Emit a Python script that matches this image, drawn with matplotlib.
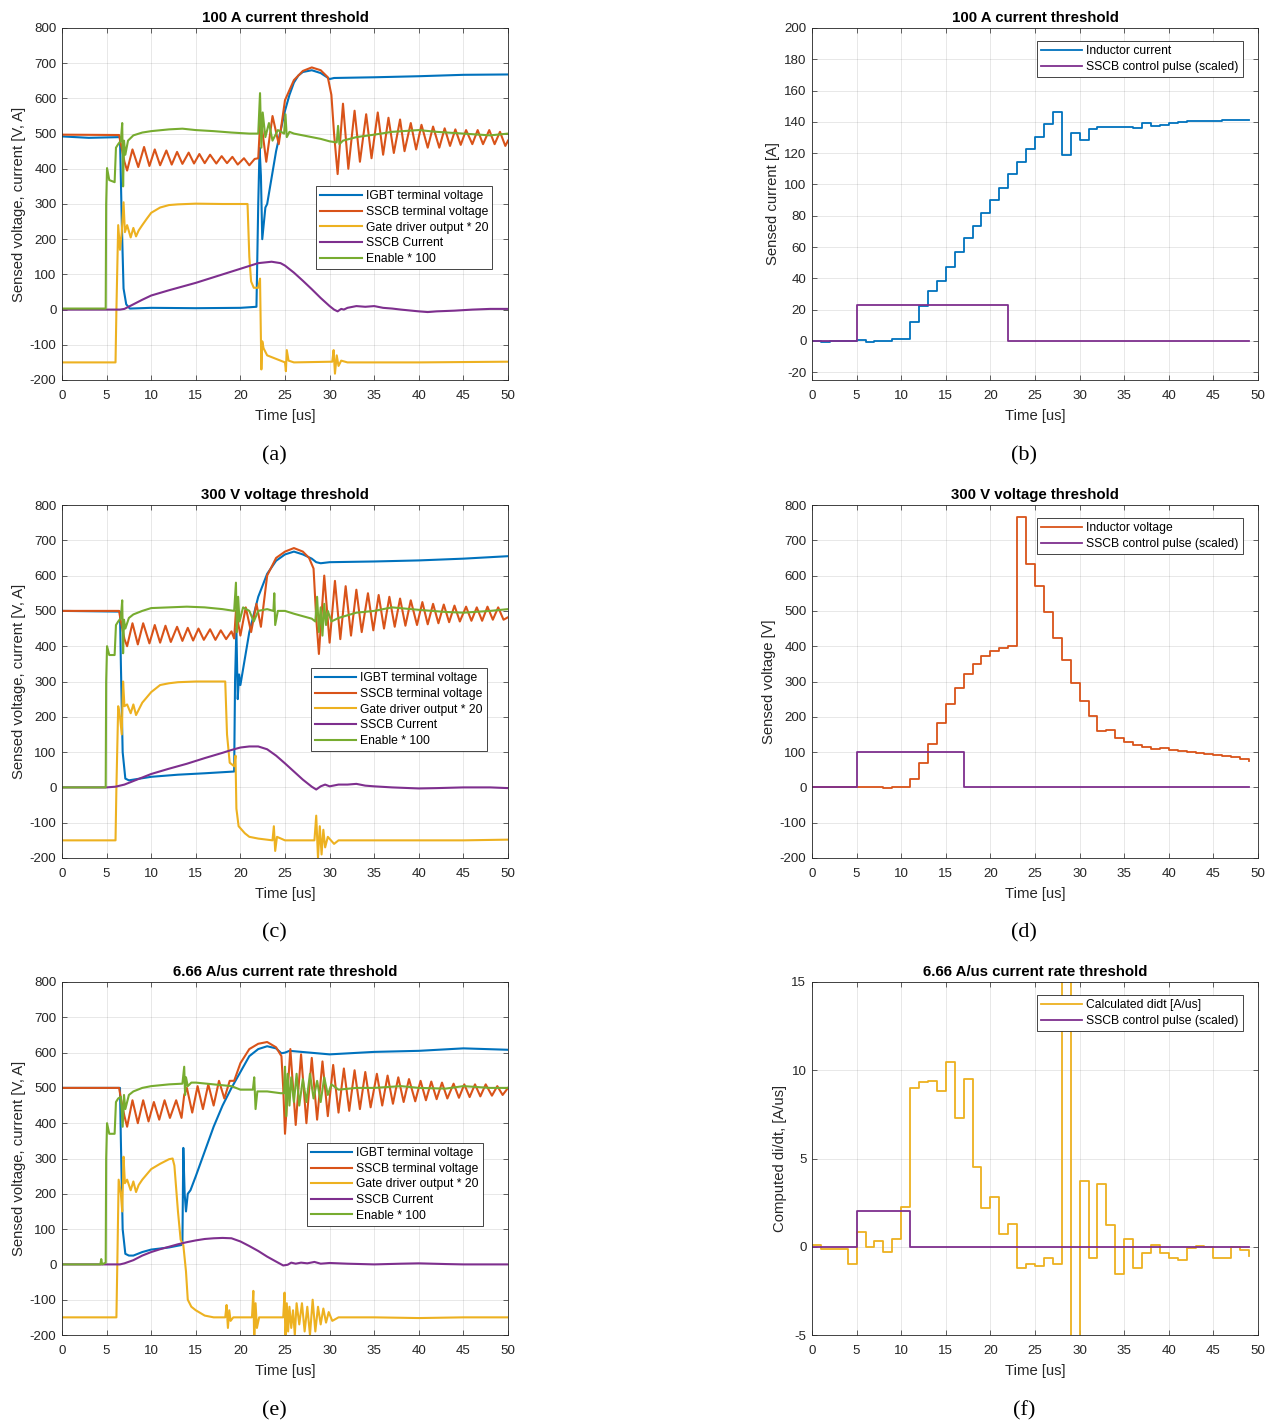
import matplotlib
matplotlib.use("Agg")
import matplotlib.pyplot as plt
import numpy as np

plt.rcParams['font.family'] = ['Liberation Sans', 'DejaVu Sans']
plt.rcParams['axes.unicode_minus'] = False

# MATLAB default line colours
BLUE = '#0072BD'
ORANGE = '#D95319'
YELLOW = '#EDB120'
PURPLE = '#7E2F8E'
GREEN = '#77AC30'
INK = '#262626'

left_labels = ['IGBT terminal voltage', 'SSCB terminal voltage',
               'Gate driver output * 20', 'SSCB Current', 'Enable * 100']

# ---- (a) 100 A current threshold, scope traces (time [us], value)
a_igbt = [(0, 492), (3, 488), (6.5, 490), (6.7, 250), (6.9, 60), (7.2, 15), (7.6, 3), (10, 5), (15, 4),
          (20, 5), (21.8, 8), (22.0, 300), (22.15, 460), (22.3, 380), (22.45, 200), (22.8, 290), (23.0, 300),
          (24.0, 450), (25.0, 565), (25.5, 610), (26.0, 645), (26.5, 665), (27.0, 675), (28.0, 680),
          (29.0, 672), (29.6, 662), (30.0, 655), (30.5, 658), (35, 660), (40, 663), (45, 667), (50, 668)]
a_sscb = [(0, 497), (6.4, 496), (6.6, 470), (7.0, 420), (7.3, 395), (7.9, 455), (8.55, 405), (9.2, 462),
          (9.8, 408), (10.4, 455), (11.0, 410), (11.7, 452), (12.3, 412), (12.9, 448), (13.5, 414),
          (14.2, 446), (14.8, 415), (15.4, 442), (16.0, 416), (16.6, 440), (17.3, 415), (17.9, 436),
          (18.5, 416), (19.1, 434), (19.7, 412), (20.4, 430), (21.0, 410), (21.6, 428), (22.0, 430),
          (22.25, 550), (22.9, 420), (23.6, 550), (24.3, 470), (25.0, 595), (26.0, 652), (27.0, 678),
          (28.0, 688), (29.0, 680), (29.8, 660), (30.2, 610), (30.5, 500), (30.9, 385), (31.5, 585),
          (32.1, 400), (32.8, 565), (33.4, 420), (34.1, 555), (34.7, 430), (35.4, 560), (36.0, 440),
          (36.6, 545), (37.2, 445), (37.9, 540), (38.4, 450), (39.1, 530), (39.7, 455), (40.3, 525),
          (41.0, 460), (41.6, 520), (42.3, 460), (42.9, 515), (43.5, 465), (44.1, 512), (44.7, 468),
          (45.3, 510), (46.0, 470), (46.6, 510), (47.2, 470), (47.9, 510), (48.5, 470), (49.1, 505),
          (49.7, 465), (50, 480)]
a_gate = [(0, -150), (6.0, -150), (6.1, 0), (6.3, 240), (6.5, 170), (6.7, 220), (6.9, 305), (7.05, 220),
          (7.3, 240), (7.7, 205), (8.0, 232), (8.3, 208), (8.6, 225), (9.0, 240), (9.5, 258), (10, 275),
          (11, 290), (12, 297), (13, 299), (15, 301), (18, 300), (20.8, 300), (21.0, 150), (21.2, 80),
          (21.5, 62), (22.0, 62), (22.2, 88), (22.35, -170), (22.45, -90), (22.6, -110), (23.0, -130),
          (23.5, -135), (24.0, -140), (25.0, -150), (25.1, -175), (25.2, -115), (25.4, -145), (26, -150),
          (30.3, -148), (30.45, -115), (30.6, -182), (30.8, -130), (31.0, -160), (31.3, -145), (32, -150),
          (40, -150), (50, -148)]
a_current = [(0, 0), (6.5, 0), (7, 2), (8, 15), (9, 28), (10, 40), (12, 55), (15, 76), (18, 100), (20, 116),
             (22, 132), (23.5, 136), (24.5, 132), (25, 125), (26, 105), (27, 82), (28, 58), (29, 33),
             (30, 10), (30.5, 0), (30.9, -5), (31.3, 2), (31.6, 0), (32, 5), (33, 10), (34, 8), (35, 10),
             (36, 5), (37, 3), (38, 0), (40, -5), (41, -7), (42, -5), (44, -3), (46, 0), (48, 2), (50, 2)]
a_enable = [(0, 3), (4.9, 3), (4.95, 300), (5.05, 402), (5.3, 368), (5.9, 362), (6.05, 460), (6.3, 470),
            (6.6, 480), (6.75, 530), (6.85, 350), (6.95, 480), (7.1, 440), (7.4, 480), (8, 495), (9, 503),
            (10, 507), (12, 512), (13.5, 514), (15, 510), (17, 507), (19, 503), (21, 500), (22.0, 500),
            (22.2, 615), (22.35, 460), (22.5, 560), (22.8, 490), (23.2, 530), (23.6, 480), (24.2, 510),
            (24.9, 500), (25.05, 555), (25.2, 490), (25.5, 505), (26, 500), (27, 495), (28, 490), (29, 485),
            (30, 478), (30.8, 475), (30.95, 522), (31.1, 470), (31.5, 480), (33, 490), (35, 497), (37, 505),
            (40, 510), (42, 505), (45, 500), (48, 495), (50, 500)]

# ---- (c) 300 V voltage threshold
c_igbt = [(0, 500), (6.5, 498), (6.6, 350), (6.8, 100), (7.1, 25), (7.5, 20), (8, 22), (10, 30), (13, 36),
          (16, 40), (19.3, 45), (19.4, 300), (19.55, 450), (19.7, 250), (19.85, 320), (20.0, 290),
          (21.0, 440), (22.0, 540), (23.0, 605), (24.0, 642), (25.0, 660), (26.0, 668), (27.0, 660),
          (28.0, 648), (28.5, 638), (29.0, 635), (30, 638), (35, 640), (40, 643), (45, 648), (50, 655)]
c_sscb = [(0, 500), (6.4, 500), (6.6, 470), (7.0, 420), (7.3, 400), (7.9, 465), (8.5, 405), (9.1, 465),
          (9.8, 408), (10.4, 460), (11.0, 410), (11.6, 458), (12.2, 412), (12.9, 455), (13.5, 415),
          (14.1, 452), (14.7, 416), (15.3, 450), (15.9, 418), (16.6, 448), (17.2, 418), (17.8, 445),
          (18.4, 420), (19.0, 442), (19.3, 422), (19.5, 500), (20.0, 430), (20.6, 510), (21.2, 440),
          (21.8, 520), (22.3, 455), (23.0, 600), (24.0, 650), (25.0, 668), (26.0, 678), (27.0, 668),
          (27.7, 650), (28.2, 620), (28.5, 480), (28.8, 378), (29.4, 600), (30.0, 410), (30.6, 585),
          (31.2, 420), (31.8, 570), (32.4, 430), (33.0, 560), (33.6, 440), (34.3, 550), (34.9, 445),
          (35.5, 545), (36.1, 450), (36.7, 540), (37.3, 455), (37.9, 535), (38.5, 458), (39.1, 530),
          (39.8, 460), (40.4, 525), (41.0, 462), (41.6, 520), (42.2, 465), (42.8, 518), (43.4, 468),
          (44.0, 515), (44.6, 470), (45.3, 512), (45.9, 472), (46.5, 510), (47.1, 472), (47.7, 512),
          (48.3, 475), (48.9, 510), (49.5, 475), (50, 482)]
c_gate = [(0, -150), (6.0, -150), (6.1, 0), (6.3, 230), (6.5, 200), (6.7, 150), (6.85, 300), (7.0, 230),
          (7.3, 235), (7.7, 210), (8.0, 235), (8.3, 205), (8.6, 220), (9, 240), (10, 270), (11, 290),
          (12, 295), (13, 298), (15, 300), (18.3, 300), (18.5, 150), (18.8, 70), (19.3, 60), (19.45, 90),
          (19.55, -60), (19.8, -110), (20.5, -130), (21, -140), (22, -145), (23.6, -150), (23.75, -110),
          (23.9, -180), (24.1, -140), (25, -150), (28.3, -150), (28.5, -80), (28.7, -200), (28.9, -110),
          (29.1, -190), (29.3, -120), (29.5, -170), (29.8, -140), (30.5, -160), (31, -150), (35, -150),
          (40, -150), (45, -150), (50, -148)]
c_current = [(0, 0), (5, 0), (6, 2), (7, 8), (8, 18), (9, 28), (10, 38), (12, 53), (14, 67), (16, 83),
             (18, 98), (19, 106), (20, 113), (21, 116), (22, 116), (23, 108), (24, 90), (25, 68), (26, 45),
             (27, 22), (28, 2), (28.5, -6), (29, 3), (29.5, 8), (30, 3), (31, 8), (32, 8), (33, 10),
             (34, 5), (35, 3), (37, 0), (40, -3), (42, -2), (45, 0), (48, 0), (50, -2)]
c_enable = [(0, 0), (4.9, 0), (4.95, 300), (5.05, 400), (5.3, 375), (5.9, 375), (6.05, 460), (6.3, 470),
            (6.6, 480), (6.75, 530), (6.85, 380), (6.95, 475), (7.1, 450), (7.5, 480), (8, 490), (9, 500),
            (10, 508), (12, 510), (14, 512), (16, 510), (18, 505), (19.3, 500), (19.5, 580), (19.6, 440),
            (19.75, 540), (19.9, 470), (20.3, 510), (21, 500), (21.5, 470), (22, 500), (23, 505),
            (23.7, 500), (23.8, 550), (23.9, 460), (24.2, 500), (25, 500), (26, 492), (27, 485), (28, 478),
            (28.4, 470), (28.6, 540), (28.8, 440), (29.0, 510), (29.2, 430), (29.4, 520), (29.6, 460),
            (29.8, 500), (30.2, 470), (31, 480), (33, 495), (35, 500), (37, 510), (40, 503), (43, 497),
            (45, 495), (48, 500), (50, 505)]

# ---- (e) 6.66 A/us current rate threshold
e_igbt = [(0, 500), (6.5, 500), (6.6, 350), (6.8, 100), (7.1, 30), (7.5, 25), (8, 25), (9, 35), (10, 42),
          (12, 48), (13.4, 55), (13.5, 60), (13.6, 330), (13.75, 200), (13.9, 150), (14.1, 200),
          (14.4, 210), (15, 250), (16, 320), (17, 390), (18, 450), (19, 500), (20, 545), (21, 590),
          (22, 610), (23, 618), (24, 612), (24.6, 598), (25, 600), (25.5, 605), (30, 595), (35, 602),
          (40, 605), (45, 612), (50, 608)]
e_sscb = [(0, 500), (6.4, 500), (6.6, 470), (7.0, 420), (7.3, 390), (7.9, 465), (8.5, 400), (9.1, 465),
          (9.7, 405), (10.3, 460), (10.9, 410), (11.5, 465), (12.1, 415), (12.8, 465), (13.4, 415),
          (13.7, 480), (14.0, 500), (14.6, 430), (15.2, 505), (15.8, 440), (16.4, 510), (17.0, 450),
          (17.6, 520), (18.2, 470), (18.8, 520), (19.3, 520), (20, 570), (21, 610), (22, 625), (23, 630),
          (24, 615), (24.6, 590), (24.8, 500), (25.0, 370), (25.6, 610), (26.2, 395), (26.8, 595),
          (27.4, 400), (28.0, 585), (28.6, 410), (29.2, 575), (29.8, 420), (30.4, 565), (31.0, 430),
          (31.6, 555), (32.2, 435), (32.8, 550), (33.4, 440), (34.0, 545), (34.6, 445), (35.3, 540),
          (35.9, 450), (36.5, 535), (37.1, 455), (37.7, 530), (38.3, 460), (38.9, 525), (39.6, 462),
          (40.2, 520), (40.8, 465), (41.4, 518), (42.0, 468), (42.6, 515), (43.2, 470), (43.9, 512),
          (44.5, 472), (45.1, 510), (45.7, 474), (46.3, 510), (46.9, 476), (47.5, 510), (48.2, 478),
          (48.8, 505), (49.4, 480), (50, 500)]
e_gate = [(0, -150), (6.1, -150), (6.2, 0), (6.35, 240), (6.6, 200), (6.75, 150), (6.9, 305), (7.05, 230),
          (7.3, 240), (7.7, 210), (8.0, 235), (8.3, 205), (8.6, 225), (9, 240), (9.5, 255), (10, 270),
          (11, 285), (12, 298), (12.4, 300), (12.6, 280), (13.0, 150), (13.3, 70), (13.6, 55), (13.9, -20),
          (14.1, -100), (14.5, -120), (15, -130), (16, -145), (17, -150), (18.3, -150), (18.45, -115),
          (18.6, -180), (18.75, -130), (18.9, -160), (19.2, -150), (21.3, -150), (21.45, -75),
          (21.55, -220), (21.7, -110), (21.85, -180), (22.1, -150), (24.8, -150), (24.95, -80),
          (25.05, -220), (25.2, -110), (25.35, -190), (25.5, -120), (25.7, -180), (25.9, -130),
          (26.1, -200), (26.3, -110), (26.6, -170), (26.9, -110), (27.2, -190), (27.5, -120), (27.8, -200),
          (28.1, -100), (28.4, -190), (28.7, -120), (29.0, -170), (29.3, -125), (29.6, -165), (29.9, -135),
          (30.3, -160), (31, -150), (35, -150), (40, -152), (45, -150), (50, -150)]
e_current = [(0, 0), (6.5, 0), (7, 3), (8, 12), (9, 25), (10, 35), (11, 43), (12, 50), (13, 57), (14, 63),
             (15, 68), (16, 72), (17, 74), (18, 75), (19, 74), (20, 65), (21, 52), (22, 38), (23, 22),
             (24, 8), (24.8, -3), (25.3, -1), (25.7, 5), (26.2, 2), (26.8, 5), (27.5, 3), (28.3, 7), (29, 2),
             (30, 4), (32, 2), (35, 0), (38, 2), (40, 3), (43, 1), (45, 0), (48, 0), (50, 0)]
e_enable = [(0, 0), (4.3, 0), (4.4, 15), (4.5, 0), (4.9, 5), (4.95, 300), (5.05, 400), (5.3, 370),
            (5.9, 370), (6.05, 460), (6.3, 470), (6.6, 475), (6.8, 390), (6.95, 480), (7.1, 440), (7.5, 480),
            (8, 490), (9, 500), (10, 505), (12, 510), (13.5, 512), (13.7, 560), (13.8, 480), (13.9, 530),
            (14.1, 505), (14.5, 515), (15, 515), (17, 510), (19, 505), (20, 495), (21.4, 495), (21.55, 530),
            (21.7, 440), (21.9, 490), (23, 490), (24.5, 485), (24.9, 485), (25.0, 560), (25.15, 420),
            (25.3, 540), (25.5, 450), (25.7, 530), (26.0, 460), (26.3, 540), (26.6, 450), (27.0, 525),
            (27.4, 460), (27.8, 540), (28.2, 470), (28.6, 520), (29.0, 460), (29.4, 530), (29.8, 480),
            (30.2, 510), (31, 495), (33, 500), (35, 500), (38, 505), (40, 500), (43, 498), (45, 505),
            (48, 500), (50, 500)]

# ---- right column: controller samples, one per microsecond
sample_t = np.arange(50)
b_current = [0, -1, 0, 0, 0, 0.5, -0.5, 0, 0, 1, 1.5, 12, 22, 32, 38.5, 47, 56.5, 65.5, 73.5, 82,
             90, 98, 106.5, 114.5, 122.5, 130.5, 138.5, 146, 119, 133, 128.5, 135.5, 136.5, 137, 136.5, 137,
             136, 139, 137.5, 138, 139, 140, 140.3, 140.5, 140.5, 140.7, 141, 141.3, 141.2, 141]
b_pulse = [0] * 5 + [23] * 17 + [0] * 28
d_voltage = [0, 0, 0, 0, 0, 0, 0, 0, -2, 0, 2, 25, 68, 122, 182, 237, 281, 320, 350, 372,
             386, 396, 400, 766, 632, 570, 498, 423, 360, 297, 246, 202, 160, 164, 140, 128, 120, 115, 110, 111,
             105, 103, 100, 97, 95, 91, 88, 86, 80, 76]
d_pulse = [0] * 5 + [100] * 12 + [0] * 33
f_didt = [0.1, -0.1, -0.1, -0.1, -1.0, 0.85, 0.0, 0.35, -0.3, 0.45, 2.25, 9.0, 9.35, 9.4, 8.8, 10.45,
          7.3, 9.5, 4.5, 2.2, 2.8, 0.7, 1.3, -1.2, -0.95, -1.1, -0.65, -0.95, 20, -10, 3.7, -0.65, 3.55,
          1.25, -1.55, 0.45, -1.2, -0.35, 0.1, -0.35, -0.65, -0.75, -0.05, 0.05, 0.0, -0.65, -0.65, 0.0,
          -0.2, -0.5]
f_pulse = [0] * 5 + [2] * 6 + [0] * 39


def style_axes(ax, title, ylabel):
    ax.set_title(title, fontsize=10.8, fontweight='bold', pad=4)
    ax.set_xlabel('Time [us]', fontsize=10.7, color=INK, labelpad=5)
    ax.set_ylabel(ylabel, fontsize=10.7, color=INK, labelpad=3)
    ax.set_xlim(0, 50)
    ax.set_xticks(np.arange(0, 51, 5))
    ax.grid(True, color=INK, alpha=0.12, linewidth=0.6)
    ax.set_axisbelow(True)
    ax.tick_params(direction='in', length=3.5, width=0.5, top=True, right=True,
                   labelsize=9.6, colors=INK, pad=4)
    ax.tick_params(axis='x', pad=7)
    for s in ax.spines.values():
        s.set_color(INK)
        s.set_linewidth(0.6)


def legend(ax, x, y):
    leg = ax.legend(loc='upper left', bbox_to_anchor=(x, y), borderaxespad=0, fontsize=8.7,
                    frameon=True, fancybox=False, framealpha=1, edgecolor=INK,
                    handlelength=3.4, handletextpad=0.35, labelspacing=0.3, borderpad=0.35)
    leg.get_frame().set_linewidth(0.6)


def scope_panel(ax, traces, title, leg_xy):
    colors = [BLUE, ORANGE, YELLOW, PURPLE, GREEN]
    for tr, col, lab in zip(traces, colors, left_labels):
        t, v = zip(*tr)
        ax.plot(t, v, color=col, lw=1.5, label=lab)
    ax.set_ylim(-200, 800)
    ax.set_yticks(np.arange(-200, 801, 100))
    style_axes(ax, title, 'Sensed voltage, current [V, A]')
    legend(ax, *leg_xy)


def step_panel(ax, values, color, label, pulse, title, ylabel):
    ax.step(sample_t, values, where='post', color=color, lw=1.3, label=label)
    ax.step(sample_t, pulse, where='post', color=PURPLE, lw=1.3, label='SSCB control pulse (scaled)')
    style_axes(ax, title, ylabel)
    legend(ax, 0.504, 0.963)


fig = plt.figure(figsize=(12.74, 14.25), dpi=100)
W, H = 1274, 1425
lx, rx, aw = 62 / W, 812 / W, 446 / W
rows = [(380, 352), (858, 353), (1335, 353)]
axes = []
for bottom, h in rows:
    axes.append((fig.add_axes([lx, 1 - bottom / H, aw, h / H]),
                 fig.add_axes([rx, 1 - bottom / H, aw, h / H])))

scope_panel(axes[0][0], [a_igbt, a_sscb, a_gate, a_current, a_enable],
            '100 A current threshold', (0.570, 0.551))
scope_panel(axes[1][0], [c_igbt, c_sscb, c_gate, c_current, c_enable],
            '300 V voltage threshold', (0.558, 0.538))
scope_panel(axes[2][0], [e_igbt, e_sscb, e_gate, e_current, e_enable],
            '6.66 A/us current rate threshold', (0.549, 0.544))

ax = axes[0][1]
step_panel(ax, b_current, BLUE, 'Inductor current', b_pulse, '100 A current threshold', 'Sensed current [A]')
ax.set_ylim(-25, 200)
ax.set_yticks(np.arange(-20, 201, 20))

ax = axes[1][1]
step_panel(ax, d_voltage, ORANGE, 'Inductor voltage', d_pulse, '300 V voltage threshold', 'Sensed voltage [V]')
ax.set_ylim(-200, 800)
ax.set_yticks(np.arange(-200, 801, 100))

ax = axes[2][1]
step_panel(ax, f_didt, YELLOW, 'Calculated didt [A/us]', f_pulse, '6.66 A/us current rate threshold',
           'Computed di/dt, [A/us]')
ax.set_ylim(-5, 15)
ax.set_yticks(np.arange(-5, 16, 5))

# sub-figure captions
for (cx, cy, txt) in [(274, 456, '(a)'), (1024, 456, '(b)'), (274, 933, '(c)'),
                      (1024, 933, '(d)'), (274, 1411, '(e)'), (1024, 1411, '(f)')]:
    fig.text(cx / W, 1 - cy / H, txt, ha='center', va='center', fontsize=16,
             family=['Liberation Serif', 'DejaVu Serif'])

fig.savefig('out.png', dpi=100)
